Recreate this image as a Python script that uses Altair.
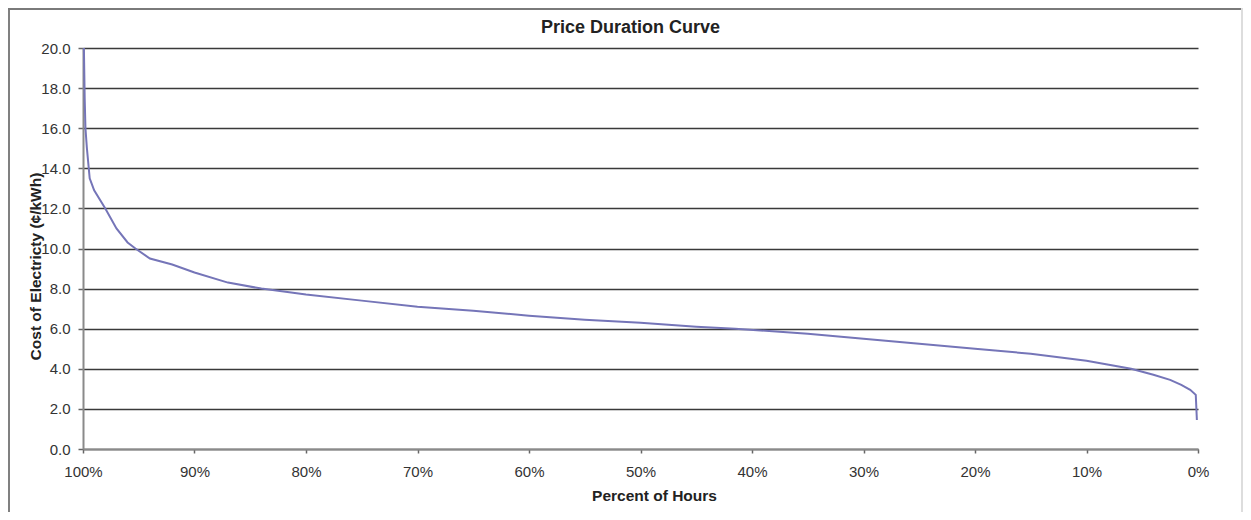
import altair as alt
import pandas as pd

# Percent of hours (x) and cost of electricity in ¢/kWh (y)
percent_of_hours = [99.92, 99.85, 99.78, 99.65, 99.4, 99.0, 98.0, 97.0, 96.0, 95.3,
                    94.0, 92.0, 90.0, 87.0, 84.0, 80.0, 75.0, 70.0, 65.0, 60.0,
                    55.0, 50.0, 45.0, 41.5, 35.0, 30.0, 25.0, 20.0, 15.0, 10.0,
                    8.0, 6.0, 4.0, 2.5, 1.5, 0.7, 0.2, 0.1]
cost_cents_kwh = [20.0, 17.5, 16.0, 15.0, 13.5, 12.9, 12.0, 11.0, 10.3, 10.0,
                  9.5, 9.2, 8.8, 8.3, 8.0, 7.7, 7.4, 7.1, 6.9, 6.65,
                  6.45, 6.3, 6.1, 6.0, 5.75, 5.5, 5.25, 5.0, 4.75, 4.4,
                  4.2, 4.0, 3.7, 3.45, 3.2, 2.95, 2.7, 1.45]
x_ticks = [100, 90, 80, 70, 60, 50, 40, 30, 20, 10, 0]
y_ticks = [0, 2, 4, 6, 8, 10, 12, 14, 16, 18, 20]
chart_title = ["Price Duration Curve"]

df = pd.DataFrame({"pct": percent_of_hours, "cost": cost_cents_kwh, "order": range(len(percent_of_hours))})
title_df = pd.DataFrame({"t": chart_title})

W, H = 1115, 401
PL, PT, PR, PB = 75, 40, 45, 63
FONT = "Liberation Sans"

line = alt.Chart(df).mark_line(color="#7575b8", strokeWidth=2, interpolate="linear").encode(
    x=alt.X("pct:Q",
            scale=alt.Scale(domain=[0, 100], reverse=True, nice=False, zero=False),
            axis=alt.Axis(values=x_ticks, labelExpr="datum.value + '%'", grid=False,
                          labelFlush=False,
                          title="Percent of Hours", titleX=571, titleY=46,
                          titleAlign="center", titleBaseline="middle",
                          tickSize=4, labelPadding=11)),
    y=alt.Y("cost:Q",
            scale=alt.Scale(domain=[0, 20], nice=False),
            axis=alt.Axis(values=y_ticks, format=".1f", grid=True,
                          title="Cost of Electricty (¢/kWh)", titleX=-48, titleY=218,
                          titleAlign="center", titleBaseline="middle", titleAngle=-90,
                          tickSize=5, labelPadding=8)),
    order="order:Q",
)

title_text = alt.Chart(title_df).mark_text(
    font=FONT, fontSize=18, fontWeight="bold", color="#222222",
    align="center", baseline="middle",
).encode(text="t:N", x=alt.value(W / 2 - 10), y=alt.value(-20))

border_left = alt.Chart(df).mark_rule(color="#808080", strokeWidth=2).encode(
    x=alt.value(-PL + 1), y=alt.value(-PT), y2=alt.value(H + PB + 10))
border_top = alt.Chart(df).mark_rule(color="#7a7a7a", strokeWidth=2).encode(
    y=alt.value(-PT + 1), x=alt.value(-PL), x2=alt.value(W + PR))
border_right = alt.Chart(df).mark_rule(color="#dddddd", strokeWidth=2).encode(
    x=alt.value(W + PR - 1), y=alt.value(-PT), y2=alt.value(H + PB + 10))

chart = alt.layer(border_left, border_top, border_right, line, title_text).properties(
    width=W, height=H,
    autosize=alt.AutoSizeParams(type="none"),
    padding={"left": PL, "top": PT, "right": PR, "bottom": PB},
).configure(background="white").configure_view(stroke=None).configure_axis(
    labelFont=FONT, labelFontSize=15, labelColor="#333333",
    titleFont=FONT, titleFontSize=15.5, titleFontWeight="bold", titleColor="#222222",
    domainColor="#8a8a8a", domainWidth=2, tickColor="#666666", tickWidth=1.5,
    gridColor="#3a3a3a", gridWidth=1.5,
)

chart.save("out.html", embed_options={"renderer": "svg", "actions": False})
